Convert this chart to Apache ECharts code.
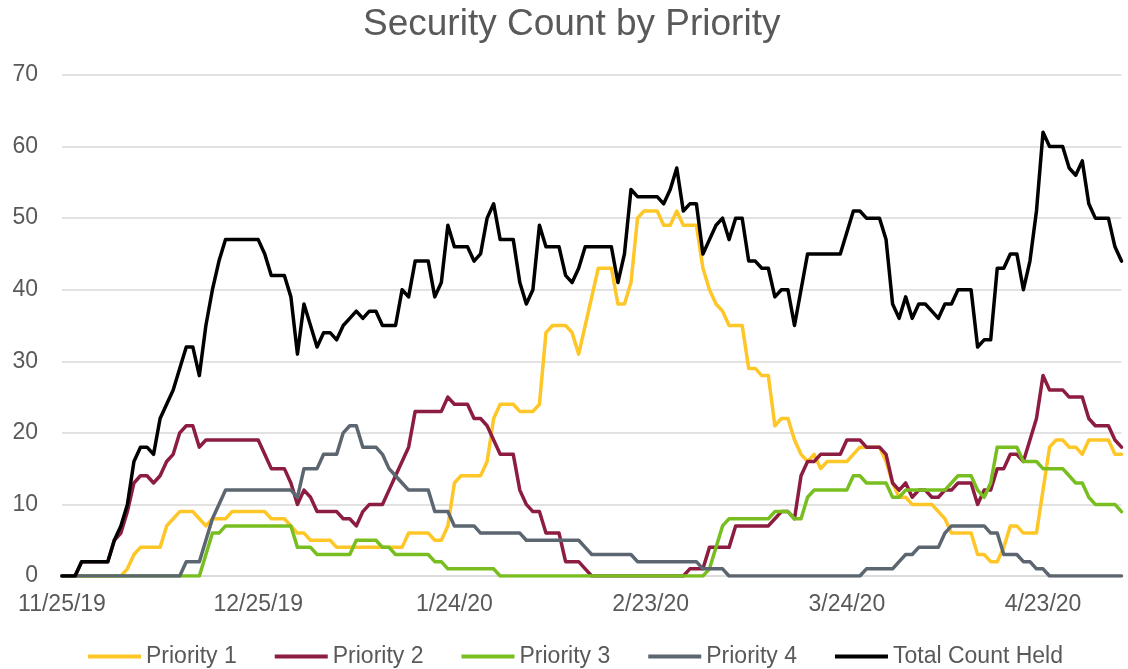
<!DOCTYPE html>
<html>
<head>
<meta charset="utf-8">
<script src="https://cdn.jsdelivr.net/npm/echarts@6/dist/echarts.min.js"></script>
<style>
html,body{margin:0;padding:0;background:#fff;}
#chart{width:1128px;height:669px;}
</style>
</head>
<body>
<div id="chart"></div>
<script>
// Daily categories starting 11/25/19 (163 days, through 5/5/20)
const startDate = [2019, 10, 25];
const dayCount = 163;
const categories = [];
for (let i = 0; i < dayCount; i++) {
  const d = new Date(startDate[0], startDate[1], startDate[2] + i);
  categories.push((d.getMonth() + 1) + '/' + d.getDate() + '/' + String(d.getFullYear()).slice(2));
}

const seriesNames = ['Priority 1', 'Priority 2', 'Priority 3', 'Priority 4', 'Total Count Held'];

const priority1 = [
  0,0,0,0,0,0,0,0,0,0,
  1,3,4,4,4,4,7,8,9,9,
  9,8,7,8,8,8,9,9,9,9,
  9,9,8,8,8,7,6,6,5,5,
  5,5,4,4,4,4,4,4,4,4,
  4,4,4,6,6,6,6,5,5,7,
  13,14,14,14,14,16,22,24,24,24,
  23,23,23,24,34,35,35,35,34,31,
  35,39,43,43,43,38,38,41,50,51,
  51,51,49,49,51,49,49,49,43,40,
  38,37,35,35,35,29,29,28,28,21,
  22,22,19,17,16,17,15,16,16,16,
  16,17,18,18,18,18,16,13,11,11,
  10,10,10,10,9,8,6,6,6,6,
  3,3,2,2,4,7,7,6,6,6,
  12,18,19,19,18,18,17,19,19,19,
  19,17,17
];

const priority2 = [
  0,0,0,2,2,2,2,2,5,6,
  9,13,14,14,13,14,16,17,20,21,
  21,18,19,19,19,19,19,19,19,19,
  19,17,15,15,15,13,10,12,11,9,
  9,9,9,8,8,7,9,10,10,10,
  12,14,16,18,23,23,23,23,23,25,
  24,24,24,22,22,21,19,17,17,17,
  12,10,9,9,6,6,6,2,2,2,
  1,0,0,0,0,0,0,0,0,0,
  0,0,0,0,0,0,1,1,1,4,
  4,4,4,7,7,7,7,7,7,8,
  9,9,8,14,16,16,17,17,17,17,
  19,19,19,18,18,18,17,13,12,13,
  11,12,12,11,11,12,12,13,13,13,
  10,12,12,15,15,17,17,16,19,22,
  28,26,26,26,25,25,25,22,21,21,
  21,19,18
];

const priority3 = [
  0,0,0,0,0,0,0,0,0,0,
  0,0,0,0,0,0,0,0,0,0,
  0,0,3,6,6,7,7,7,7,7,
  7,7,7,7,7,7,4,4,4,3,
  3,3,3,3,3,5,5,5,5,4,
  4,3,3,3,3,3,3,2,2,1,
  1,1,1,1,1,1,1,0,0,0,
  0,0,0,0,0,0,0,0,0,0,
  0,0,0,0,0,0,0,0,0,0,
  0,0,0,0,0,0,0,0,0,1,
  4,7,8,8,8,8,8,8,8,9,
  9,9,8,8,11,12,12,12,12,12,
  12,14,14,13,13,13,13,11,11,12,
  12,12,12,12,12,12,13,14,14,14,
  12,11,13,18,18,18,18,16,16,16,
  15,15,15,15,14,13,13,11,10,10,
  10,10,9
];

const priority4 = [
  0,0,0,0,0,0,0,0,0,0,
  0,0,0,0,0,0,0,0,0,2,
  2,2,5,8,10,12,12,12,12,12,
  12,12,12,12,12,12,11,15,15,15,
  17,17,17,20,21,21,18,18,18,17,
  15,14,13,12,12,12,12,9,9,9,
  7,7,7,7,6,6,6,6,6,6,
  6,5,5,5,5,5,5,5,5,5,
  4,3,3,3,3,3,3,3,2,2,
  2,2,2,2,2,2,2,2,1,1,
  1,1,0,0,0,0,0,0,0,0,
  0,0,0,0,0,0,0,0,0,0,
  0,0,0,1,1,1,1,1,2,3,
  3,4,4,4,4,6,7,7,7,7,
  7,7,6,6,3,3,3,2,2,1,
  1,0,0,0,0,0,0,0,0,0,
  0,0,0
];

const totalHeld = [
  0,0,0,2,2,2,2,2,5,7,
  10,16,18,18,17,22,24,26,29,32,
  32,28,35,40,44,47,47,47,47,47,
  47,45,42,42,42,39,31,38,35,32,
  34,34,33,35,36,37,36,37,37,35,
  35,35,40,39,44,44,44,39,41,49,
  46,46,46,44,45,50,52,47,47,47,
  41,38,40,49,46,46,46,42,41,43,
  46,46,46,46,46,41,45,54,53,53,
  53,53,52,54,57,51,52,52,45,47,
  49,50,47,50,50,44,44,43,43,39,
  40,40,35,40,45,45,45,45,45,45,
  48,51,51,50,50,50,47,38,36,39,
  36,38,38,37,36,38,38,40,40,40,
  32,33,33,43,43,45,45,40,44,51,
  62,60,60,60,57,56,58,52,50,50,
  50,46,44
];

const colors = ['#FFC627', '#8C1D40', '#78BE20', '#5C6670', '#000000'];
const allValues = [priority1, priority2, priority3, priority4, totalHeld];

const textColor = '#595959';
const fontFamily = '"Liberation Sans", Arial, sans-serif';

const chart = echarts.init(document.getElementById('chart'), null, {renderer: 'canvas'});
chart.setOption({
  animation: false,
  backgroundColor: '#ffffff',
  color: colors,
  title: {
    text: 'Security Count by Priority',
    left: 363,
    top: 6,
    padding: 0,
    textStyle: {color: textColor, fontSize: 37, fontWeight: 'normal', fontFamily: fontFamily}
  },
  legend: {
    data: seriesNames,
    left: 88,
    top: 645,
    padding: 0,
    icon: 'rect',
    itemWidth: 53,
    itemHeight: 4,
    itemGap: 38,
    textStyle: {color: textColor, fontSize: 23, fontFamily: fontFamily}
  },
  grid: {left: 62, right: 6.5, top: 75, bottom: 93, containLabel: false},
  xAxis: {
    type: 'category',
    data: categories,
    boundaryGap: false,
    axisLine: {show: true, lineStyle: {color: '#d9d9d9', width: 1.5}},
    axisTick: {show: false},
    axisLabel: {interval: 29, color: textColor, fontSize: 23, fontFamily: fontFamily, margin: 17},
    splitLine: {show: false}
  },
  yAxis: {
    type: 'value',
    min: 0,
    max: 70,
    interval: 10,
    axisLine: {show: false},
    axisTick: {show: false},
    axisLabel: {color: textColor, fontSize: 23, fontFamily: fontFamily, margin: 24},
    splitLine: {show: true, lineStyle: {color: '#d9d9d9', width: 1.5}}
  },
  series: seriesNames.map((name, i) => ({
    name: name,
    type: 'line',
    data: allValues[i],
    symbol: 'none',
    showSymbol: false,
    lineStyle: {color: colors[i], width: 3.5, cap: 'round', join: 'round'},
    itemStyle: {color: colors[i]},
    z: 2 + i
  }))
});
</script>
</body>
</html>
